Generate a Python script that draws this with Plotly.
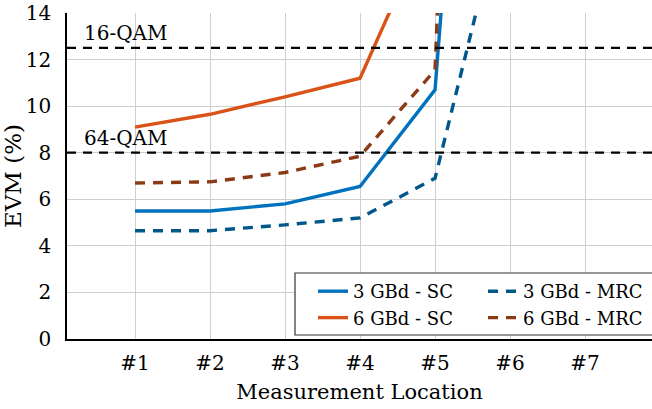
import plotly.graph_objects as go

locations = ["#1", "#2", "#3", "#4", "#5", "#6", "#7"]

sc_3gbd = [5.5, 5.5, 5.8, 6.55, 10.7, 52.0]
sc_6gbd = [9.1, 9.65, 10.4, 11.2, 18.4]
mrc_3gbd = [4.65, 4.65, 4.9, 5.2, 6.9, 19.9]
mrc_6gbd = [6.7, 6.75, 7.15, 7.85, 11.55, 90.0]

qam_levels = [12.5, 8.0]
qam_labels = ["16-QAM", "64-QAM"]

FONT = "DejaVu Serif"
W, H = 652, 409
ML, MR, MT, MB = 67, 0, 13, 70
PW, PH = W - ML - MR, H - MT - MB


def px_x(p):
    return (p - ML) / PW


def px_y(p):
    return (H - MB - p) / PH


fig = go.Figure()

series = [
    ("3 GBd - SC", sc_3gbd, "#0072BD", "solid", "legend"),
    ("6 GBd - SC", sc_6gbd, "#D95319", "solid", "legend"),
    ("3 GBd - MRC", mrc_3gbd, "#00588A", "10px,8px", "legend2"),
    ("6 GBd - MRC", mrc_6gbd, "#8A3A14", "10px,8px", "legend2"),
]
for name, vals, col, dash, leg in series:
    fig.add_trace(go.Scatter(
        x=locations[:len(vals)], y=vals, mode="lines", name=name, legend=leg,
        line=dict(color=col, width=3.4, dash=dash),
    ))

for lvl, lab in zip(qam_levels, qam_labels):
    fig.add_shape(type="line", xref="x domain", yref="y", x0=0, x1=1, y0=lvl, y1=lvl,
                  line=dict(color="black", width=2.2, dash="9px,7px"), layer="above")
    fig.add_annotation(x=locations[0], xshift=-9, y=lvl, yref="y", text=lab, showarrow=False,
                       yanchor="bottom", xanchor="center", yshift=1,
                       font=dict(family=FONT, size=20, color="black"))

# legend frame
fig.add_shape(type="rect", xref="paper", yref="paper",
              x0=px_x(295), x1=px_x(660), y0=px_y(335), y1=px_y(273),
              line=dict(color="#333333", width=1.2), fillcolor="white", layer="above")

leg_common = dict(
    orientation="v", xanchor="left", yanchor="top",
    borderwidth=0, bgcolor="rgba(0,0,0,0)",
    font=dict(family=FONT, size=18, color="black"),
    traceorder="normal", tracegroupgap=0, itemwidth=30,
)

fig.update_layout(
    width=W, height=H,
    margin=dict(l=ML, r=MR, t=MT, b=MB),
    plot_bgcolor="white", paper_bgcolor="white",
    font=dict(family=FONT, size=20, color="black"),
    showlegend=True,
    legend=dict(x=px_x(313), y=px_y(273), **leg_common),
    legend2=dict(x=px_x(483), y=px_y(273), **leg_common),
    xaxis=dict(
        type="category", categoryorder="array", categoryarray=locations,
        range=[-0.907, 6.893],
        showgrid=True, gridcolor="#cfcfcf", gridwidth=1,
        showline=True, linecolor="black", linewidth=2,
        ticks="", ticklabelstandoff=5,
        tickfont=dict(family=FONT, size=20),
        title=dict(text="Measurement Location", font=dict(family=FONT, size=21), standoff=10),
        zeroline=False,
    ),
    yaxis=dict(
        range=[0, 14], dtick=2,
        showgrid=True, gridcolor="#cfcfcf", gridwidth=1,
        showline=True, linecolor="black", linewidth=1.5,
        ticks="", ticklabelstandoff=10,
        tickfont=dict(family=FONT, size=20),
        title=dict(text="EVM (%)", font=dict(family=FONT, size=23), standoff=4),
        zeroline=False,
    ),
)

fig.write_html("out.html")
